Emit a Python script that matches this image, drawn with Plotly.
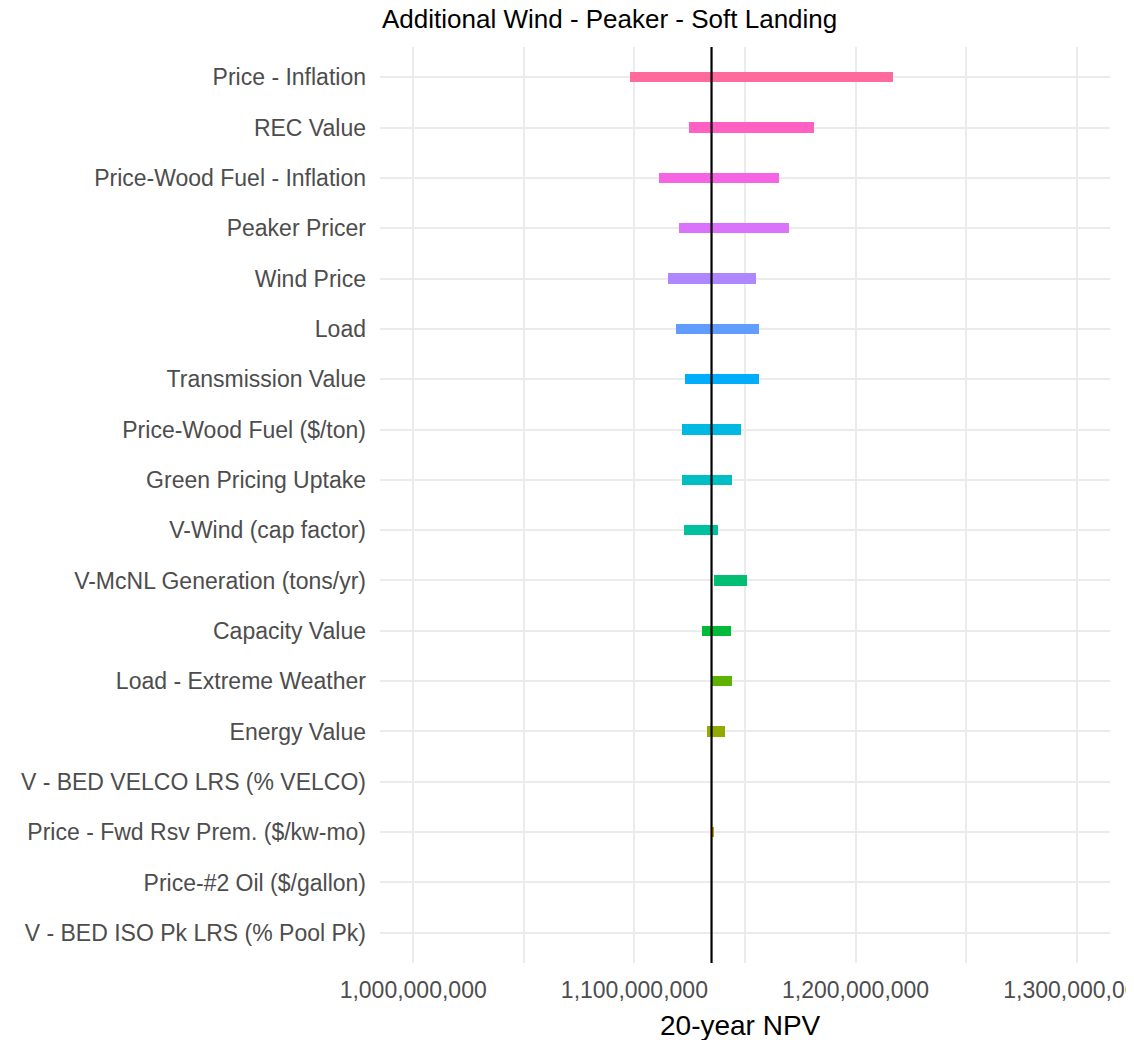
import math
import plotly.graph_objects as go

# ---- data (top to bottom) ----
categories = [
    "Price - Inflation",
    "REC Value",
    "Price-Wood Fuel - Inflation",
    "Peaker Pricer",
    "Wind Price",
    "Load",
    "Transmission Value",
    "Price-Wood Fuel ($/ton)",
    "Green Pricing Uptake",
    "V-Wind (cap factor)",
    "V-McNL Generation (tons/yr)",
    "Capacity Value",
    "Load - Extreme Weather",
    "Energy Value",
    "V - BED VELCO LRS (% VELCO)",
    "Price - Fwd Rsv Prem. ($/kw-mo)",
    "Price-#2 Oil ($/gallon)",
    "V - BED ISO Pk LRS (% Pool Pk)",
]
base_npv = 1134870000
low_values = [
    1097900000, 1124800000, 1111300000, 1120200000, 1115000000, 1118800000,
    1122900000, 1121300000, 1121700000, 1122600000, 1135800000, 1130500000,
    1134870000, 1132900000, 1134870000, 1134870000, 1134870000, 1134870000,
]
high_values = [
    1216800000, 1181100000, 1165300000, 1169800000, 1155000000, 1156200000,
    1156500000, 1148100000, 1144300000, 1137800000, 1150700000, 1143800000,
    1144100000, 1140900000, 1134870000, 1135800000, 1134870000, 1134870000,
]
x_tick_values = [1000000000, 1100000000, 1200000000, 1300000000]
title_text = "Additional Wind - Peaker - Soft Landing"
x_title = "20-year NPV"


def hcl_hex(h, c=100.0, l=65.0):
    Xn, Yn, Zn = 95.047, 100.0, 108.883
    den = Xn + 15 * Yn + 3 * Zn
    un, vn = 4 * Xn / den, 9 * Yn / den
    U = c * math.cos(math.radians(h))
    V = c * math.sin(math.radians(h))
    Y = Yn * ((l + 16) / 116) ** 3
    u = U / (13 * l) + un
    v = V / (13 * l) + vn
    X = 9 * Y * u / (4 * v)
    Z = -X / 3 - 5 * Y + 3 * Y / v
    X, Y, Z = X / 100, Y / 100, Z / 100
    rgb = [
        3.240479 * X - 1.537150 * Y - 0.498535 * Z,
        -0.969256 * X + 1.875992 * Y + 0.041556 * Z,
        0.055648 * X - 0.204043 * Y + 1.057311 * Z,
    ]
    out = []
    for t in rgb:
        t = 12.92 * t if t <= 0.0031308 else 1.055 * t ** (1 / 2.4) - 0.055
        out.append(int(round(max(0.0, min(1.0, t)) * 255)))
    return "#%02X%02X%02X" % tuple(out)


n = len(categories)
hues = [15 + i * (340 / (n - 1)) for i in range(n)]  # ggplot hue palette
# first factor level is the bottom category
colors = [hcl_hex(hues[n - 1 - i]) for i in range(n)]

fig = go.Figure()
fig.add_trace(go.Bar(
    y=categories,
    x=[h - l for l, h in zip(low_values, high_values)],
    base=low_values,
    orientation="h",
    width=0.21,
    marker=dict(color=colors, line=dict(width=0)),
    showlegend=False,
))

fig.add_shape(type="line", xref="x", yref="paper",
              x0=base_npv, x1=base_npv, y0=0, y1=1,
              line=dict(color="black", width=2.2), layer="above")

FONT = "Liberation Sans, Arial, sans-serif"
# page body has an 8px margin: shrink the figure so the plot lands where the reference has it
W, H = 1126, 1032
ML, MR, MT, MB = 372, 24, 39, 77
fig.update_layout(
    width=W, height=H,
    margin=dict(l=ML, r=MR, t=MT, b=MB),
    plot_bgcolor="white", paper_bgcolor="white",
    font=dict(family=FONT, color="#4D4D4D"),
    bargap=0,
)
fig.update_xaxes(
    range=[985000000, 1315000000],
    tickvals=x_tick_values,
    tickformat=",d",
    tickfont=dict(size=23, color="#4D4D4D", family=FONT),
    showgrid=True, gridcolor="#EBEBEB", gridwidth=2,
    minor=dict(dtick=50000000, tick0=0, showgrid=True, gridcolor="#EBEBEB", gridwidth=1.5),
    zeroline=False, showline=False,
    ticks="", ticklabelstandoff=11,
    ticklabeloverflow="allow",
    automargin=False,
)
fig.update_yaxes(
    categoryorder="array", categoryarray=categories[::-1],
    range=[-0.6, n - 1 + 0.6],
    tickfont=dict(size=23, color="#4D4D4D", family=FONT),
    showgrid=True, gridcolor="#EBEBEB", gridwidth=2,
    zeroline=False, showline=False,
    ticks="", ticklabelstandoff=13,
    automargin=False,
)
plot_left = 8 + ML
plot_top = 8 + MT
plot_bottom = 8 + H - MB
plot_w = W - ML - MR
plot_h = H - MT - MB
fig.add_annotation(text=title_text, xref="paper", yref="paper",
                   x=(609 - plot_left) / plot_w, y=1 + (plot_top - 19) / plot_h,
                   xanchor="center", yanchor="middle", showarrow=False,
                   font=dict(size=26, color="black", family=FONT))
fig.add_annotation(text=x_title, xref="paper", yref="paper",
                   x=(740 - plot_left) / plot_w, y=-(1025 - plot_bottom) / plot_h,
                   xanchor="center", yanchor="middle", showarrow=False,
                   font=dict(size=28, color="black", family=FONT))

fig.write_html("out.html")
